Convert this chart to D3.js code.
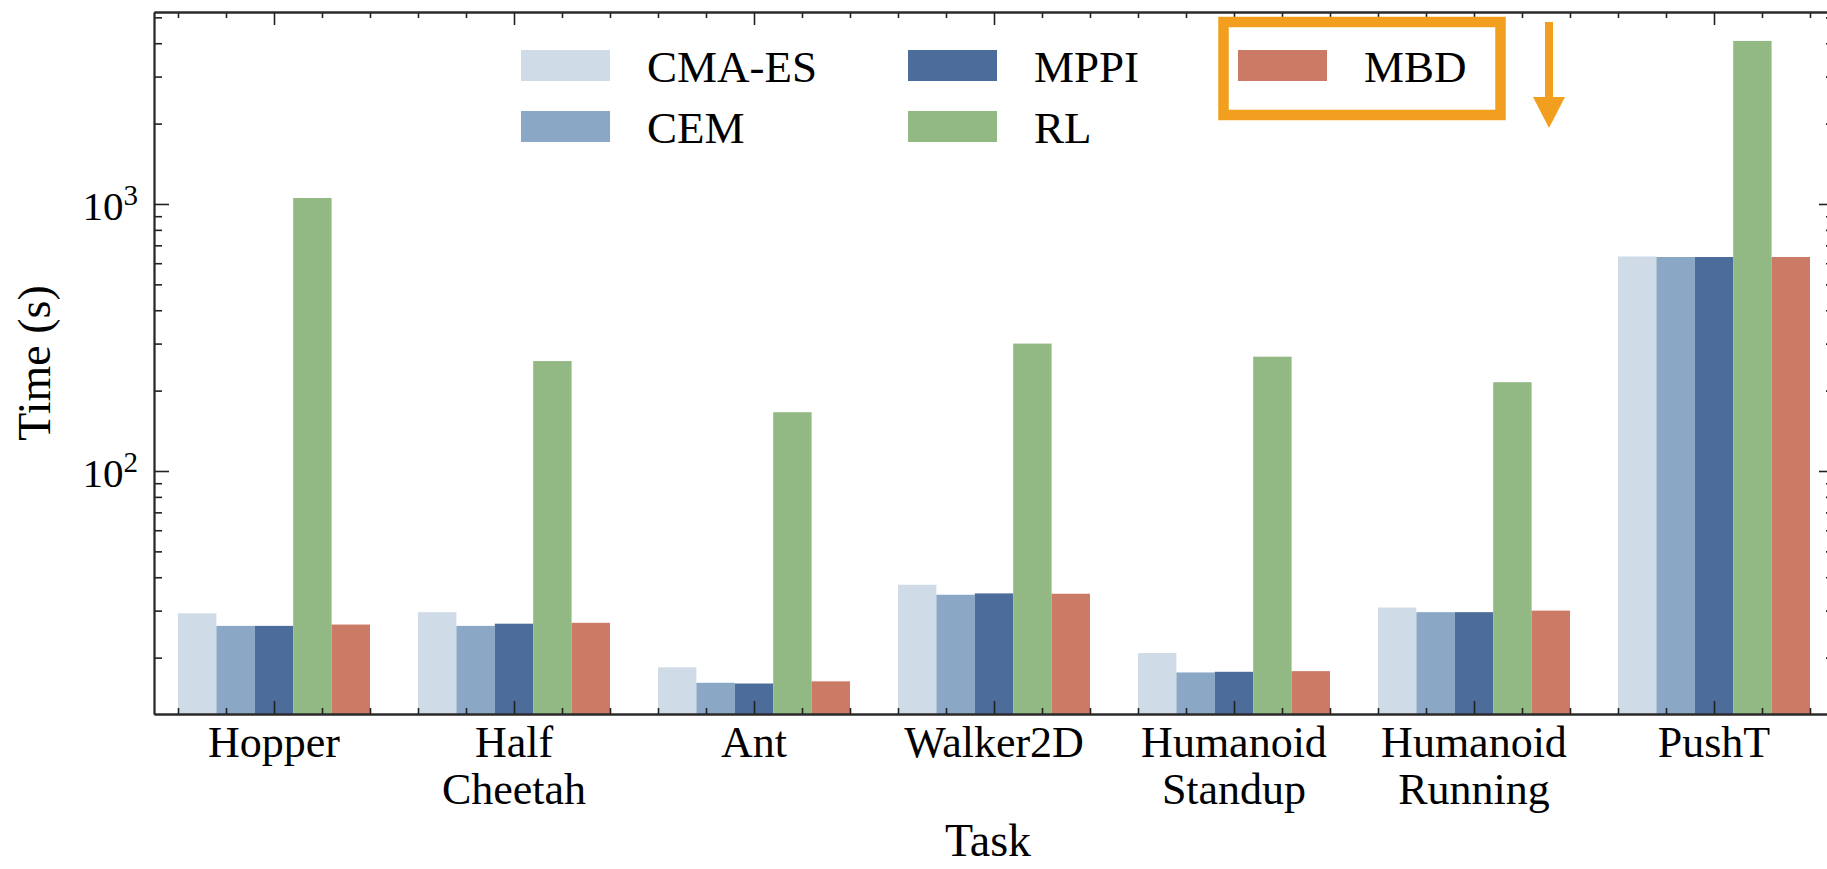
<!DOCTYPE html>
<html>
<head>
<meta charset="utf-8">
<script src="https://cdn.jsdelivr.net/npm/d3@7"></script>
<style>
  body { margin: 0; background: #fff; }
  svg { display: block; }
</style>
</head>
<body>
<div id="chart"></div>
<script>
// data (seconds, log axis)
const tasks = [["Hopper"], ["Half", "Cheetah"], ["Ant"], ["Walker2D"],
  ["Humanoid", "Standup"], ["Humanoid", "Running"], ["PushT"]];
const methods = ["CMA-ES", "CEM", "MPPI", "RL", "MBD"];
const colors = ["#cfdbe7", "#8aa8c6", "#4c6c9b", "#92b884", "#cb7a66"];
const cmaes = [29.3, 29.6, 18.4, 37.5, 20.8, 30.8, 636];
const cem = [26.3, 26.3, 16.1, 34.4, 17.6, 29.6, 633];
const mppi = [26.3, 26.8, 16.0, 34.8, 17.7, 29.6, 633];
const rl = [1053, 258, 166, 300, 268, 215, 4080];
const mbd = [26.6, 27.0, 16.3, 34.7, 17.8, 30.0, 633];
const yMajor = [100, 1000];
const yMinor = [20, 30, 40, 50, 60, 70, 80, 90, 200, 300, 400, 500, 600, 700, 800, 900, 2000, 3000, 4000, 5000];

const series = [cmaes, cem, mppi, rl, mbd];

const W = 1827, H = 869;
const plotL = 154, plotR = 1834, plotT = 12, plotB = 714;
const barW = 0.16;
const serif = "'Liberation Serif', 'Times New Roman', 'DejaVu Serif', serif";

const svg = d3.select("#chart").append("svg")
  .attr("width", W).attr("height", H);

const x = d3.scaleLinear().domain([-0.5, 6.5]).range([plotL, plotR]);
const y = d3.scaleLog().domain([12.3, 5236]).range([plotB, plotT]);

// bars
series.forEach((vals, k) => {
  svg.append("g").selectAll("rect")
    .data(vals)
    .join("rect")
    .attr("x", (d, i) => x(i - 0.4 + k * barW))
    .attr("width", x(barW) - x(0))
    .attr("y", d => y(d))
    .attr("height", d => plotB - y(d))
    .attr("fill", colors[k]);
});

// axes (ticks point inward, like the original)
const majorIdx = d3.range(tasks.length);
const minorX = d3.range(-2, 33).map(i => i * 0.2).filter(v => Math.abs(v - Math.round(v)) > 1e-6);

const axisStyle = g => {
  g.selectAll("path").attr("stroke", "#2a2a2a").attr("stroke-width", 1.8);
  g.selectAll("line").attr("stroke", "#222").attr("stroke-width", 1.6);
};

svg.append("g").attr("transform", `translate(0,${plotB})`)
  .call(d3.axisBottom(x).tickValues(minorX).tickSize(-6).tickSizeOuter(0).tickFormat(""))
  .call(axisStyle);
svg.append("g").attr("transform", `translate(0,${plotB})`)
  .call(d3.axisBottom(x).tickValues(majorIdx).tickSize(-13).tickSizeOuter(0).tickFormat(""))
  .call(axisStyle);
svg.append("g").attr("transform", `translate(0,${plotT})`)
  .call(d3.axisTop(x).tickValues(minorX).tickSize(-6).tickSizeOuter(0).tickFormat(""))
  .call(axisStyle);
svg.append("g").attr("transform", `translate(0,${plotT})`)
  .call(d3.axisTop(x).tickValues(majorIdx).tickSize(-13).tickSizeOuter(0).tickFormat(""))
  .call(axisStyle);

svg.append("g").attr("transform", `translate(${plotL},0)`)
  .call(d3.axisLeft(y).tickValues(yMinor).tickSize(-8).tickSizeOuter(0).tickFormat(""))
  .call(axisStyle);
svg.append("g").attr("transform", `translate(${plotL},0)`)
  .call(d3.axisLeft(y).tickValues(yMajor).tickSize(-15).tickSizeOuter(0).tickFormat(""))
  .call(axisStyle);
svg.append("g").attr("transform", `translate(${plotR},0)`)
  .call(d3.axisRight(y).tickValues(yMinor).tickSize(-8).tickSizeOuter(0).tickFormat(""))
  .call(axisStyle);
svg.append("g").attr("transform", `translate(${plotR},0)`)
  .call(d3.axisRight(y).tickValues(yMajor).tickSize(-15).tickSizeOuter(0).tickFormat(""))
  .call(axisStyle);

// y tick labels as 10^n
yMajor.forEach(v => {
  const t = svg.append("text")
    .attr("x", 138).attr("y", y(v) + 16)
    .attr("text-anchor", "end")
    .style("font-family", serif)
    .style("font-size", "41px");
  t.append("tspan").text("10");
  t.append("tspan").text(Math.round(Math.log10(v)))
    .attr("dy", -15).style("font-size", "29px");
});

// x tick labels, one or two lines
tasks.forEach((lines, i) => {
  const t = svg.append("text")
    .attr("x", x(i)).attr("y", 757)
    .attr("text-anchor", "middle")
    .style("font-family", serif)
    .style("font-size", "44px");
  lines.forEach((ln, j) => {
    t.append("tspan").attr("x", x(i)).attr("dy", j === 0 ? 0 : 47).text(ln);
  });
});

// axis titles
svg.append("text")
  .attr("x", 988).attr("y", 856)
  .attr("text-anchor", "middle")
  .style("font-family", serif)
  .style("font-size", "46px")
  .text("Task");
svg.append("text")
  .attr("transform", "translate(50,363) rotate(-90)")
  .attr("text-anchor", "middle")
  .style("font-family", serif)
  .style("font-size", "46px")
  .text("Time (s)");

// legend: 3 columns, 2 rows, no frame
const legX = [521, 908, 1238];
const legY = [50, 111];
methods.forEach((m, k) => {
  const col = Math.floor(k / 2), row = k % 2;
  const g = svg.append("g").attr("transform", `translate(${legX[col]},${legY[row]})`);
  g.append("rect").attr("width", 89).attr("height", 31).attr("fill", colors[k]);
  g.append("text").attr("x", 126).attr("y", 32)
    .style("font-family", serif)
    .style("font-size", "45px").text(m);
});

// highlight box and arrow
const orange = "#f29e1f";
svg.append("rect")
  .attr("x", 1223.5).attr("y", 22).attr("width", 277).attr("height", 93)
  .attr("fill", "none").attr("stroke", orange).attr("stroke-width", 10.5);
svg.append("line")
  .attr("x1", 1549).attr("x2", 1549).attr("y1", 22).attr("y2", 100)
  .attr("stroke", orange).attr("stroke-width", 8);
svg.append("path")
  .attr("d", "M1533,97 L1565,97 L1549,128 Z")
  .attr("fill", orange);
</script>
</body>
</html>
